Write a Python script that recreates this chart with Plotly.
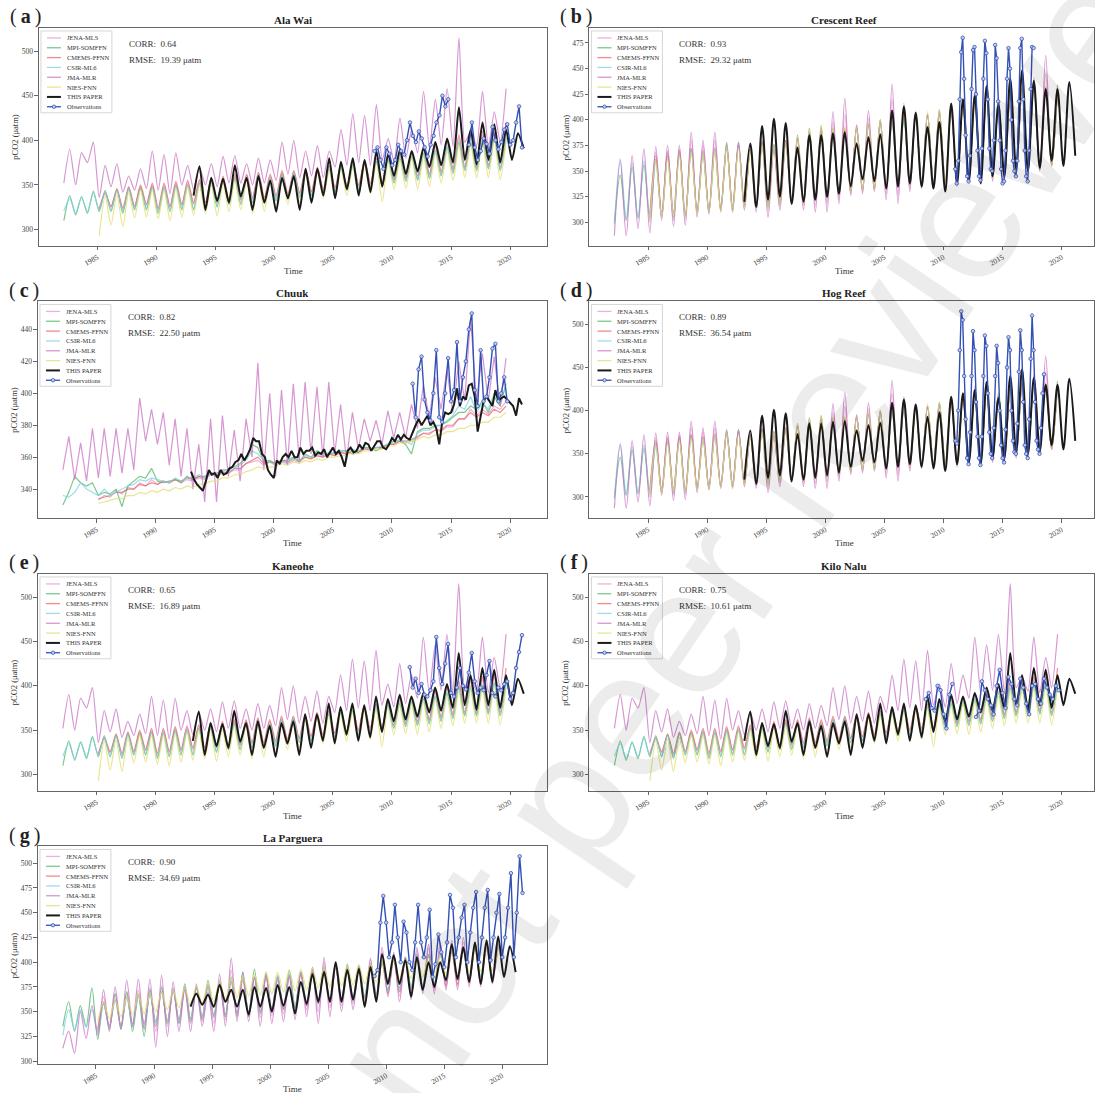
import plotly.graph_objects as go

# ------------------------------------------------------------------ data
# Model products: half-yearly values (late-winter low, late-summer high per year),
# time of value i = start + step * i.  Observations: regular steps given per site.

PRODUCTS = ["JENA-MLS", "MPI-SOMFFN", "CMEMS-FFNN", "CSIR-ML6", "JMA-MLR", "NIES-FNN"]
LEGEND_NAMES = PRODUCTS + ["THIS PAPER", "Observations"]
HALF = 0.5

# ---- Oahu, Hawaii (Ala Wai, Kaneohe, Kilo Nalu share the grid cell)
HI_JENA_START = 1985.15
HI_JENA = [324, 340, 326, 344, 322, 345, 325, 348, 327, 350,
           322, 350, 325, 352, 327, 353, 328, 355, 330, 357,
           330, 358, 332, 360, 333, 361, 334, 363, 334, 360,
           336, 364, 338, 365, 340, 367, 342, 369, 344, 371,
           346, 373, 348, 375, 349, 377, 350, 379, 352, 381,
           355, 384, 357, 386, 358, 390, 360, 393, 363, 398,
           366, 403, 368, 405, 368, 407, 370, 410, 368, 412]
HI_MPI_START = 1982.15
HI_MPI = [310, 338, 316, 337, 318, 343, 320, 344, 320, 345,
          318, 347, 322, 347, 322, 348, 318, 347, 320, 350,
          322, 350, 322, 352, 325, 353, 325, 356, 328, 358,
          328, 358, 330, 360, 330, 358, 332, 362, 334, 363,
          336, 365, 338, 367, 340, 368, 342, 370, 344, 372,
          344, 375, 346, 376, 348, 378, 352, 380, 354, 382,
          355, 385, 357, 388, 360, 392, 363, 398, 366, 398,
          366, 400, 368, 403, 366, 402]
HI_CMEMS_START = 1985.15
HI_CMEMS = [322, 342, 325, 346, 324, 348, 326, 350, 328, 352,
            324, 352, 326, 354, 328, 355, 330, 356, 330, 358,
            331, 360, 333, 362, 334, 362, 336, 364, 336, 362,
            338, 366, 340, 366, 341, 368, 343, 370, 345, 372,
            347, 374, 349, 376, 350, 378, 352, 380, 353, 383,
            356, 386, 358, 388, 360, 392, 362, 395, 365, 400,
            368, 406, 370, 408, 370, 410, 372, 414, 370, 420]
HI_CSIR_START = 1982.15
HI_CSIR = [321, 335, 318, 336, 320, 341, 322, 342, 321, 344,
           320, 346, 323, 345, 324, 347, 320, 348, 322, 349,
           324, 351, 323, 352, 326, 355, 327, 355, 329, 357,
           330, 359, 331, 362, 332, 358, 334, 361, 335, 364,
           337, 366, 339, 366, 341, 370, 343, 371, 345, 373,
           346, 374, 348, 377, 349, 379, 353, 382, 355, 383,
           357, 386, 358, 389, 361, 394, 364, 399, 367, 400,
           368, 402, 369, 404, 368, 404]
HI_JMA_START = 1982.15
HI_JMA = [352, 390, 350, 386, 375, 398, 336, 372, 348, 374,
          342, 360, 344, 368, 346, 388, 344, 384, 340, 386,
          350, 372, 345, 370, 350, 374, 348, 382, 352, 383,
          352, 374, 350, 380, 352, 378, 355, 398, 362, 400,
          358, 388, 360, 394, 358, 388, 370, 412, 372, 430,
          375, 428, 372, 440, 378, 402, 376, 425, 380, 412,
          386, 455, 392, 446, 395, 458, 393, 515, 398, 410,
          394, 455, 392, 432, 398, 458]
HI_NIES_START = 1985.15
HI_NIES = [293, 338, 305, 340, 303, 342, 313, 345, 314, 344,
           312, 345, 310, 346, 314, 348, 316, 350, 318, 350,
           315, 352, 320, 355, 322, 355, 318, 356, 320, 356,
           320, 358, 328, 360, 330, 362, 332, 364, 335, 366,
           335, 368, 338, 370, 338, 372, 340, 374, 331, 376,
           345, 378, 346, 380, 345, 382, 348, 385, 352, 388,
           355, 394, 358, 395, 358, 398, 358, 400, 356, 398]
HI_OURS_START = 1993.15
HI_OURS = [338, 371, 322, 358, 332, 357, 330, 372, 337, 358,
           322, 360, 330, 355, 320, 358, 335, 360, 322, 368,
           330, 368, 338, 380, 335, 376, 345, 380, 338, 378,
           342, 388, 348, 385, 360, 390, 362, 388, 365, 392,
           370, 398, 372, 402, 375, 437, 378, 412, 373, 420,
           378, 418, 375, 412, 378, 408, 391]

ALA_WAI_OBS_START, ALA_WAI_OBS_STEP = 2008.5, 0.25
ALA_WAI_OBS = [388, 392, 378, 368, 392, 385, 372, 378, 395, 388,
               384, 400, 420, 405, 398, 410, 402, 392, 382, 395,
               405, 420, 428, 450, 438, 446, None, None, None, None,
               None, None, 395, 420, 392, 378, 388, 402, 396, 385,
               415, 400, 390, 398, 412, 418, 395, 400, 420, 438, 392]
KANEOHE_OBS_START, KANEOHE_OBS_STEP = 2011.5, 0.25
KANEOHE_OBS = [421, 398, 408, 392, 402, 390, 388, 395, 405, 455,
               420, 402, 425, 447, 392, 388, 398, 420, 400, 396,
               415, 437, 405, 392, 398, 395, 412, 428, 392, 388,
               398, 395, 402, 405, 385, 392, 420, 438, 457]
KILO_NALU_OBS_START, KILO_NALU_OBS_STEP = 2008.5, 0.25
KILO_NALU_OBS = [385, 392, 375, 372, 400, 395, 368, 352, 390, 402,
                 None, None, None, None, None, None, None, 365, 372, 405,
                 395, 385, 378, 368, 400, 418, 392, 375, 410, 402,
                 385, 378, 408, 398, 380, 368, 400, 402, 385, 380,
                 408, 398, 390, 385, 400, 395]

# ---- Bermuda (Crescent Reef, Hog Reef share the grid cell)
BM_JENA_START = 1985.15
BM_JENA = [300, 368, 305, 370, 302, 372, 303, 380, 308, 375,
           310, 380, 312, 376, 312, 378, 314, 374, 314, 378,
           312, 374, 316, 378, 320, 382, 316, 388, 316, 392,
           318, 398, 322, 405, 328, 394, 330, 402, 332, 398,
           328, 420, 326, 410, 333, 406, 335, 405, 335, 406,
           336, 410, 338, 416, 340, 424, 340, 428, 342, 416,
           343, 427, 346, 430, 349, 438, 351, 445, 355, 430]
BM_MPI_START = 1982.15
BM_MPI = [300, 346, 302, 354, 304, 356, 304, 362, 306, 365,
          305, 368, 306, 372, 310, 366, 310, 370, 312, 378,
          312, 375, 316, 372, 316, 378, 315, 375, 318, 380,
          320, 385, 320, 392, 322, 394, 324, 388, 326, 390,
          330, 392, 332, 395, 332, 400, 334, 398, 334, 402,
          336, 404, 338, 405, 338, 410, 338, 412, 340, 418,
          342, 420, 342, 425, 343, 420, 345, 425, 348, 430,
          350, 435, 352, 430, 356, 434]
BM_CMEMS_START = 1985.15
BM_CMEMS = [308, 365, 310, 368, 310, 370, 308, 372, 312, 370,
            312, 373, 314, 372, 316, 375, 318, 372, 318, 378,
            318, 376, 320, 380, 323, 382, 323, 386, 325, 388,
            325, 392, 328, 392, 331, 392, 334, 396, 334, 398,
            334, 402, 336, 405, 338, 404, 339, 405, 339, 408,
            340, 410, 341, 414, 342, 418, 343, 424, 344, 418,
            346, 426, 348, 430, 350, 434, 352, 432, 355, 432]
BM_CSIR_START = 1982.15
BM_CSIR = [298, 362, 304, 358, 305, 360, 306, 358, 306, 362,
           308, 365, 306, 370, 312, 368, 312, 372, 313, 374,
           314, 378, 316, 370, 318, 375, 316, 376, 320, 378,
           322, 380, 321, 386, 324, 388, 322, 390, 328, 388,
           330, 390, 333, 394, 334, 396, 333, 400, 335, 402,
           337, 404, 338, 405, 338, 408, 339, 410, 341, 415,
           342, 418, 343, 424, 344, 418, 346, 425, 348, 428,
           350, 432, 353, 430, 356, 430]
BM_JMA_START = 1982.15
BM_JMA = [287, 360, 287, 365, 294, 372, 290, 374, 302, 375,
          296, 375, 297, 388, 305, 380, 308, 388, 310, 375,
          310, 378, 312, 372, 310, 380, 305, 372, 312, 378,
          318, 382, 312, 388, 310, 392, 310, 408, 318, 421,
          326, 395, 328, 409, 330, 400, 322, 435, 318, 416,
          330, 408, 333, 405, 333, 405, 332, 412, 335, 418,
          338, 428, 338, 430, 340, 415, 340, 428, 345, 432,
          348, 441, 350, 463, 355, 430]
BM_NIES_START = 1985.15
BM_NIES = [302, 360, 305, 362, 306, 365, 305, 368, 308, 366,
           310, 370, 311, 374, 310, 372, 314, 370, 315, 375,
           314, 374, 318, 378, 320, 384, 318, 390, 322, 395,
           322, 392, 326, 394, 330, 392, 332, 398, 332, 400,
           332, 402, 334, 406, 336, 406, 336, 408, 337, 410,
           338, 412, 340, 416, 341, 420, 342, 426, 343, 420,
           345, 428, 347, 432, 350, 436, 352, 432, 355, 432]
BM_OURS_START = 1993.15
BM_OURS = [320, 377, 315, 394, 322, 401, 325, 397, 318, 373,
           320, 385, 322, 385, 325, 387, 328, 388, 335, 377,
           342, 383, 340, 386, 333, 409, 335, 413, 338, 407,
           335, 393, 333, 398, 330, 416, 338, 420, 340, 424,
           338, 433, 345, 415, 345, 440, 352, 448, 350, 438,
           353, 430, 360, 430, 355, 437, 365]

CRESCENT_OBS_START, CRESCENT_OBS_STEP = 2011.0, 0.125
CRESCENT_OBS = [352, 338, 360, 420, 466, 480, 440, 385,
                345, 340, 365, 430, 468, 471, 425, 370,
                345, 341, 372, 440, 477, 465, 420, 372,
                352, 350, 380, 473, 460, 418, 380, 352,
                338, 340, 370, 440, 470, 450, 400, 360,
                350, 345, 360, 418, 470, 479, 420, 370,
                345, 340, 370, 430, 471, 470]
HOG_OBS_START, HOG_OBS_STEP = 2011.0, 0.125
HOG_OBS = [365, 362, 400, 470, 515, 505, 440, 390,
           345, 338, 375, 440, 492, 470, 410, 370,
           345, 337, 370, 440, 487, 475, 420, 375,
           350, 345, 380, 440, 475, 455, 400, 360,
           345, 340, 378, 450, 485, 470, 400, 365,
           352, 350, 385, 445, 493, 470, 410, 360,
           350, 345, 390, 460, 510, 470, 410, 365,
           355, 350, 380, 420, 442]

# ---- Chuuk
CH_JENA_START = 1985.15
CH_JENA = [333, 336, 335, 339, 337, 341, 340, 344, 342, 346,
           343, 345, 344, 346, 344, 346, 345, 347, 346, 349,
           348, 350, 350, 352, 352, 356, 357, 358, 355, 357,
           355, 357, 356, 358, 357, 360, 359, 361, 360, 362,
           361, 363, 362, 364, 363, 366, 364, 366, 366, 368,
           368, 370, 369, 370, 372, 375, 374, 377, 376, 379,
           379, 384, 384, 390, 386, 390, 387, 392, 390, 395]
CH_MPI_START = 1982.15
CH_MPI = [330, 338, 348, 344, 342, 344, 336, 338, 337, 340,
          329, 342, 345, 348, 347, 353, 345, 344, 345, 346,
          344, 348, 346, 348, 348, 350, 350, 352, 352, 354,
          356, 360, 368, 366, 357, 358, 356, 358, 358, 360,
          357, 362, 360, 364, 362, 362, 363, 364, 364, 362,
          363, 366, 366, 364, 366, 368, 370, 370, 368, 362,
          376, 378, 378, 380, 380, 382, 385, 388, 388, 392,
          390, 395, 388, 398, 392, 406]
CH_CMEMS_START = 1985.15
CH_CMEMS = [334, 335, 336, 338, 338, 340, 340, 343, 342, 344,
            343, 345, 344, 346, 345, 347, 346, 348, 347, 350,
            349, 351, 350, 353, 353, 356, 358, 360, 356, 357,
            356, 358, 357, 359, 358, 360, 359, 361, 360, 362,
            361, 363, 362, 364, 363, 365, 365, 366, 366, 368,
            368, 370, 370, 371, 373, 375, 375, 377, 377, 380,
            380, 384, 384, 388, 385, 388, 386, 390, 388, 392]
CH_CSIR_START = 1982.15
CH_CSIR = [336, 335, 338, 344, 340, 338, 336, 340, 336, 338,
           340, 342, 343, 346, 345, 347, 346, 345, 344, 347,
           345, 347, 347, 349, 347, 350, 349, 352, 351, 353,
           355, 358, 364, 362, 358, 357, 355, 357, 357, 359,
           358, 361, 360, 362, 361, 363, 362, 364, 363, 365,
           364, 366, 365, 366, 367, 368, 369, 371, 370, 368,
           375, 377, 377, 379, 380, 383, 386, 392, 390, 398,
           388, 394, 390, 400, 395, 404]
CH_JMA_START = 1982.15
CH_JMA = [352, 373, 346, 369, 345, 378, 347, 378, 348, 378,
          350, 378, 352, 397, 370, 390, 368, 388, 355, 384,
          348, 378, 340, 368, 332, 384, 332, 386, 348, 377,
          345, 384, 360, 419, 352, 400, 348, 402, 355, 406,
          358, 407, 362, 404, 360, 407, 362, 393, 358, 388,
          365, 384, 370, 383, 368, 389, 372, 388, 372, 393,
          378, 405, 385, 410, 390, 415, 388, 420, 395, 447,
          395, 425, 395, 423, 392, 422]
CH_NIES_START = 1985.15
CH_NIES = [331, 332, 333, 334, 334, 336, 336, 338, 337, 339,
           338, 340, 339, 341, 340, 342, 341, 343, 343, 345,
           345, 347, 347, 349, 349, 351, 352, 354, 353, 354,
           354, 356, 355, 357, 356, 358, 357, 359, 358, 360,
           360, 361, 361, 363, 362, 364, 364, 365, 365, 367,
           367, 369, 369, 370, 371, 373, 372, 374, 374, 376,
           376, 378, 378, 380, 380, 382, 382, 385, 385, 388]
# quarterly values (no strong seasonal cycle here)
CH_OURS_START, CH_OURS_STEP = 1993.0, 0.25
CH_OURS = [351, 346, 343, 341, 339, 345, 352, 349, 350, 347, 352, 349,
           350, 353, 354, 357, 358, 362, 358, 361, 365, 372, 370, 370,
           362, 360, 352, 349, 347, 358, 356, 360, 362, 360, 364, 360,
           360, 366, 362, 364, 364, 366, 361, 363, 362, 365, 360, 363,
           366, 362, 364, 360, 354, 364, 366, 363, 364, 368, 365, 369,
           368, 364, 367, 370, 370, 366, 365, 368, 372, 370, 374, 371,
           374, 372, 371, 376, 380, 384, 380, 383, 386, 380, 382, 378,
           368, 382, 388, 387, 388, 393, 403, 392, 398, 396, 405, 406,
           398, 376, 385, 395, 398, 395, 392, 402, 395, 397, 398, 396,
           394, 392, 386, 397, 393]

CHUUK_OBS_START, CHUUK_OBS_STEP = 2011.75, 0.25
CHUUK_OBS = [406, 385, 415, 423, 396, 388, 383, 400, 427, 385,
             382, 400, 422, 395, 402, 432, 395, 410, 420, 440,
             450, 402, 392, 427, 395, 398, 410, 428, 431, 395,
             400, 410, 395]

# ---- La Parguera, Puerto Rico
LP_JENA_START = 1985.15
LP_JENA = [328, 365, 332, 368, 333, 370, 334, 372, 333, 374,
           330, 376, 335, 374, 338, 372, 338, 374, 340, 375,
           338, 382, 342, 392, 344, 386, 345, 384, 344, 386,
           346, 384, 348, 386, 350, 390, 352, 394, 350, 400,
           354, 398, 356, 394, 358, 396, 360, 402, 364, 410,
           368, 408, 366, 405, 368, 412, 372, 414, 372, 416,
           375, 418, 376, 420, 378, 418, 378, 420, 380, 422]
LP_MPI_START = 1982.15
LP_MPI = [335, 360, 330, 356, 335, 374, 322, 360, 333, 368,
          332, 370, 330, 368, 325, 372, 335, 374, 338, 372,
          338, 378, 340, 375, 342, 382, 344, 380, 345, 385,
          346, 390, 345, 393, 348, 388, 350, 385, 352, 392,
          354, 390, 356, 392, 358, 395, 360, 396, 362, 398,
          364, 395, 365, 398, 368, 400, 372, 405, 374, 405,
          375, 408, 376, 408, 378, 410, 380, 412, 382, 415,
          384, 415, 385, 418, 386, 418]
LP_CMEMS_START = 1985.15
LP_CMEMS = [332, 358, 336, 362, 336, 365, 338, 366, 338, 368,
            340, 370, 341, 372, 342, 373, 343, 374, 345, 376,
            346, 378, 347, 380, 348, 382, 349, 384, 350, 385,
            352, 386, 353, 387, 354, 388, 356, 390, 358, 392,
            359, 394, 360, 395, 362, 396, 363, 398, 366, 400,
            368, 402, 370, 403, 372, 405, 373, 406, 374, 408,
            376, 410, 378, 412, 380, 414, 382, 415, 384, 416]
LP_CSIR_START = 1982.15
LP_CSIR = [326, 352, 332, 352, 334, 352, 330, 358, 334, 362,
           335, 365, 336, 366, 336, 368, 338, 370, 340, 372,
           341, 374, 342, 375, 344, 378, 345, 380, 347, 382,
           348, 384, 349, 385, 350, 386, 352, 387, 354, 388,
           355, 390, 357, 392, 358, 394, 360, 395, 362, 396,
           364, 397, 366, 399, 368, 402, 370, 404, 372, 405,
           374, 407, 376, 408, 378, 410, 380, 412, 382, 414,
           384, 416, 385, 418, 386, 418]
LP_JMA_START = 1982.15
LP_JMA = [313, 330, 308, 350, 323, 356, 326, 372, 330, 375,
          332, 382, 335, 383, 332, 383, 314, 387, 325, 380,
          330, 375, 330, 378, 335, 370, 330, 388, 335, 404,
          340, 390, 340, 385, 335, 390, 338, 382, 340, 385,
          342, 390, 345, 395, 338, 405, 345, 400, 350, 392,
          352, 396, 355, 404, 360, 415, 365, 410, 360, 405,
          362, 415, 368, 418, 368, 420, 372, 422, 372, 425,
          375, 420, 375, 422, 378, 425]
LP_NIES_START = 1985.15
LP_NIES = [340, 360, 343, 362, 345, 365, 347, 367, 348, 368,
           350, 370, 352, 372, 354, 374, 356, 376, 358, 380,
           360, 382, 362, 385, 364, 386, 366, 388, 367, 390,
           368, 390, 370, 392, 371, 393, 372, 394, 374, 395,
           375, 396, 376, 396, 377, 397, 378, 398, 380, 400,
           382, 402, 383, 403, 384, 404, 385, 405, 386, 406,
           388, 408, 389, 410, 390, 410, 391, 412, 392, 412]
LP_OURS_START = 1993.15
LP_OURS = [355, 368, 357, 367, 355, 377, 360, 372, 355, 372,
           347, 375, 355, 374, 350, 377, 356, 375, 348, 380,
           358, 388, 360, 390, 360, 400, 360, 392, 362, 393,
           355, 395, 360, 408, 378, 407, 378, 402, 365, 405,
           372, 400, 375, 400, 382, 418, 383, 415, 380, 420,
           378, 422, 380, 426, 385, 416, 390]

PARGUERA_OBS_START, PARGUERA_OBS_STEP = 2009.0, 0.25
PARGUERA_OBS = [386, 392, 440, 467, 440, 405, 420, 458, 425, 400,
                441, 430, 400, 392, 420, 458, 420, 405, 425, 453,
                385, 398, 428, 410, 395, 420, 468, 455, 405, 425,
                445, 458, 400, 430, 455, 471, 400, 425, 455, 473,
                402, 425, 450, 469, 405, 425, 455, 490, 405, 450,
                507, 470]

# ------------------------------------------------------------------ style
W, H = 1095, 1093
SERIF = "Liberation Serif, Times New Roman, serif"
TEXT = "#333333"
FRAME = "#666666"
COLORS = {
    "JENA-MLS": "rgba(232,150,205,0.75)",
    "MPI-SOMFFN": "rgba(80,180,100,0.75)",
    "CMEMS-FFNN": "rgba(235,100,100,0.75)",
    "CSIR-ML6": "rgba(120,210,225,0.75)",
    "JMA-MLR": "rgba(200,115,195,0.75)",
    "NIES-FNN": "rgba(225,220,105,0.75)",
    "THIS PAPER": "#1a1a1a",
    "Observations": "#3350b5",
}

REGIONS = {
    "hawaii": [(HI_JENA_START, HALF, HI_JENA), (HI_MPI_START, HALF, HI_MPI),
               (HI_CMEMS_START, HALF, HI_CMEMS), (HI_CSIR_START, HALF, HI_CSIR),
               (HI_JMA_START, HALF, HI_JMA), (HI_NIES_START, HALF, HI_NIES),
               (HI_OURS_START, HALF, HI_OURS)],
    "bermuda": [(BM_JENA_START, HALF, BM_JENA), (BM_MPI_START, HALF, BM_MPI),
                (BM_CMEMS_START, HALF, BM_CMEMS), (BM_CSIR_START, HALF, BM_CSIR),
                (BM_JMA_START, HALF, BM_JMA), (BM_NIES_START, HALF, BM_NIES),
                (BM_OURS_START, HALF, BM_OURS)],
    "chuuk": [(CH_JENA_START, HALF, CH_JENA), (CH_MPI_START, HALF, CH_MPI),
              (CH_CMEMS_START, HALF, CH_CMEMS), (CH_CSIR_START, HALF, CH_CSIR),
              (CH_JMA_START, HALF, CH_JMA), (CH_NIES_START, HALF, CH_NIES),
              (CH_OURS_START, CH_OURS_STEP, CH_OURS)],
    "parguera": [(LP_JENA_START, HALF, LP_JENA), (LP_MPI_START, HALF, LP_MPI),
                 (LP_CMEMS_START, HALF, LP_CMEMS), (LP_CSIR_START, HALF, LP_CSIR),
                 (LP_JMA_START, HALF, LP_JMA), (LP_NIES_START, HALF, LP_NIES),
                 (LP_OURS_START, HALF, LP_OURS)],
}
# seasonal sites are drawn smoothed, the weakly seasonal Chuuk series as plain segments
LINE_SHAPE = {"hawaii": ("spline", 0.6), "bermuda": ("spline", 0.9),
              "chuuk": ("linear", 0), "parguera": ("spline", 0.8)}

# panel boxes in pixels (left, top, right, bottom)
PANELS = [
    dict(tag="a", title="Ala Wai", box=(39, 28, 548, 246), region="hawaii",
         obs=(ALA_WAI_OBS_START, ALA_WAI_OBS_STEP, ALA_WAI_OBS), corr="0.64", rmse="19.39",
         yr=(282, 526), yt=[300, 350, 400, 450, 500], xr=(1980.04, 2023.16)),
    dict(tag="b", title="Crescent Reef", box=(590, 28, 1100, 246), region="bermuda",
         obs=(CRESCENT_OBS_START, CRESCENT_OBS_STEP, CRESCENT_OBS), corr="0.93", rmse="29.32",
         yr=(277.4, 489.6), yt=[300, 325, 350, 375, 400, 425, 450, 475], xr=(1980.04, 2023.16)),
    dict(tag="c", title="Chuuk", box=(38, 302, 548, 519), region="chuuk",
         obs=(CHUUK_OBS_START, CHUUK_OBS_STEP, CHUUK_OBS), corr="0.82", rmse="22.50",
         yr=(321.9, 457.5), yt=[340, 360, 380, 400, 420, 440], xr=(1980.04, 2023.16)),
    dict(tag="d", title="Hog Reef", box=(590, 302, 1100, 519), region="bermuda",
         obs=(HOG_OBS_START, HOG_OBS_STEP, HOG_OBS), corr="0.89", rmse="36.54",
         yr=(275.6, 526.4), yt=[300, 350, 400, 450, 500], xr=(1980.04, 2023.16)),
    dict(tag="e", title="Kaneohe", box=(38, 575, 548, 792), region="hawaii",
         obs=(KANEOHE_OBS_START, KANEOHE_OBS_STEP, KANEOHE_OBS), corr="0.65", rmse="16.89",
         yr=(282, 526), yt=[300, 350, 400, 450, 500], xr=(1980.04, 2023.16)),
    dict(tag="f", title="Kilo Nalu", box=(590, 575, 1100, 792), region="hawaii",
         obs=(KILO_NALU_OBS_START, KILO_NALU_OBS_STEP, KILO_NALU_OBS), corr="0.75", rmse="10.61",
         yr=(282, 526), yt=[300, 350, 400, 450, 500], xr=(1980.04, 2023.16)),
    dict(tag="g", title="La Parguera", box=(38, 848, 548, 1066), region="parguera",
         obs=(PARGUERA_OBS_START, PARGUERA_OBS_STEP, PARGUERA_OBS), corr="0.90", rmse="34.69",
         yr=(297, 517), yt=[300, 325, 350, 375, 400, 425, 450, 475, 500], xr=(1980.0, 2023.9)),
]


def px(x):
    return x / W


def py(y):
    return 1 - y / H


fig = go.Figure()
layout = dict(width=W, height=H, margin=dict(l=0, r=0, t=0, b=0),
              paper_bgcolor="white", plot_bgcolor="white", showlegend=False)
annotations, shapes = [], []

for n, p in enumerate(PANELS, start=1):
    xa, ya = f"x{n}" if n > 1 else "x", f"y{n}" if n > 1 else "y"
    x0, y0, x1, y1 = p["box"]
    x1c = min(x1, W)
    lo, hi = p["xr"]
    hi_c = lo + (hi - lo) * (x1c - x0) / (x1 - x0)
    shape, smooth = LINE_SHAPE[p["region"]]

    for name, (start, step, vals) in zip(LEGEND_NAMES[:7], REGIONS[p["region"]]):
        ours = name == "THIS PAPER"
        line = dict(color=COLORS[name], width=2.0 if ours else 1.2, shape=shape)
        if shape == "spline":
            line["smoothing"] = smooth
        fig.add_trace(go.Scatter(
            x=[start + step * i for i in range(len(vals))], y=vals, mode="lines",
            name=name, xaxis=xa, yaxis=ya, line=line))
    ostart, ostep, ovals = p["obs"]
    fig.add_trace(go.Scatter(
        x=[ostart + ostep * i for i in range(len(ovals))], y=ovals,
        mode="lines+markers", name="Observations", xaxis=xa, yaxis=ya,
        line=dict(color=COLORS["Observations"], width=1.4),
        marker=dict(symbol="circle", size=3.5, color="rgba(200,210,240,0.9)",
                    line=dict(color=COLORS["Observations"], width=0.8))))

    axis = dict(showline=True, linecolor=FRAME, linewidth=1, mirror=True,
                ticks="outside", ticklen=3.5, tickwidth=0.8, tickcolor=FRAME,
                showgrid=False, zeroline=False,
                tickfont=dict(family=SERIF, size=7.5, color="#444444"))
    layout["xaxis" + (str(n) if n > 1 else "")] = dict(
        axis, domain=[px(x0), px(x1c)], anchor=ya, range=[lo, hi_c],
        tickvals=[1985, 1990, 1995, 2000, 2005, 2010, 2015, 2020], tickangle=-30)
    layout["yaxis" + (str(n) if n > 1 else "")] = dict(
        axis, domain=[py(y1), py(y0)], anchor=xa, range=list(p["yr"]), tickvals=p["yt"])

    cx = (x0 + x1) / 2
    # panel letter, title, axis titles
    annotations.append(dict(text=f"(\u2009<b>{p['tag']}</b>\u2009)", x=px(x0 - 31), y=py(y0 - 11),
                            xref="paper", yref="paper", xanchor="left", yanchor="middle",
                            showarrow=False, font=dict(family=SERIF, size=20, color="#222222")))
    annotations.append(dict(text=f"<b>{p['title']}</b>", x=px(cx), y=py(y0 - 8),
                            xref="paper", yref="paper", xanchor="center", yanchor="middle",
                            showarrow=False, font=dict(family=SERIF, size=11, color="#222222")))
    annotations.append(dict(text="Time", x=px(cx), y=py(y1 + 25),
                            xref="paper", yref="paper", xanchor="center", yanchor="middle",
                            showarrow=False, font=dict(family=SERIF, size=9, color=TEXT)))
    annotations.append(dict(text="pCO2 (μatm)", x=px(x0 - 24), y=py((y0 + y1) / 2),
                            xref="paper", yref="paper", xanchor="center", yanchor="middle",
                            textangle=-90, showarrow=False,
                            font=dict(family=SERIF, size=8.5, color=TEXT)))
    # statistics
    annotations.append(dict(text=f"CORR:  {p['corr']}", x=px(x0 + 88), y=py(y0 + 16),
                            xref="paper", yref="paper", xanchor="left", yanchor="middle",
                            showarrow=False, font=dict(family=SERIF, size=9, color=TEXT)))
    annotations.append(dict(text=f"RMSE:  {p['rmse']} μatm", x=px(x0 + 88), y=py(y0 + 32),
                            xref="paper", yref="paper", xanchor="left", yanchor="middle",
                            showarrow=False, font=dict(family=SERIF, size=9, color=TEXT)))
    # legend box
    shapes.append(dict(type="rect", xref="paper", yref="paper",
                       x0=px(x0 + 2), x1=px(x0 + 73), y0=py(y0 + 85), y1=py(y0 + 3),
                       line=dict(color="#cccccc", width=0.8), fillcolor="rgba(255,255,255,0.85)"))
    for k, name in enumerate(LEGEND_NAMES):
        yy = y0 + 10 + 9.85 * k
        col = COLORS[name]
        shapes.append(dict(type="line", xref="paper", yref="paper",
                           x0=px(x0 + 8), x1=px(x0 + 22), y0=py(yy), y1=py(yy),
                           line=dict(color=col, width=2.0 if name == "THIS PAPER" else 1.3)))
        if name == "Observations":
            shapes.append(dict(type="circle", xref="paper", yref="paper",
                               x0=px(x0 + 13.3), x1=px(x0 + 16.7), y0=py(yy + 1.7), y1=py(yy - 1.7),
                               line=dict(color=col, width=0.8), fillcolor="rgba(200,210,240,1)"))
        annotations.append(dict(text=name, x=px(x0 + 26), y=py(yy),
                                xref="paper", yref="paper", xanchor="left", yanchor="middle",
                                showarrow=False, font=dict(family=SERIF, size=6.5, color=TEXT)))

# diagonal preprint watermark, running off the page corners
annotations.append(dict(text="not peer reviewed", x=px(770), y=py(500), xref="paper", yref="paper",
                        xanchor="center", yanchor="middle", textangle=-56, showarrow=False,
                        font=dict(family="Liberation Sans, Arial, sans-serif", size=180,
                                  color="rgba(0,0,0,0.075)")))

layout["annotations"] = annotations
layout["shapes"] = shapes
fig.update_layout(**layout)
fig.write_html("out.html")
